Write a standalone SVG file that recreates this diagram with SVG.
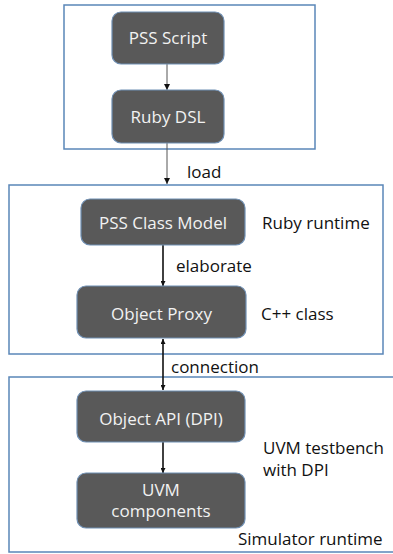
<svg xmlns="http://www.w3.org/2000/svg" width="393" height="554" viewBox="0 0 393 554">
<style>
.cont{fill:none;stroke:#5a86b8;stroke-width:1.5}
.node{fill:#595959;stroke:#6f8fb3;stroke-width:1.2}
.nt{font-family:"Open Sans","Noto Sans",sans-serif;font-size:17px;fill:#f2f2f2;text-anchor:middle}
.lbl{font-family:"Open Sans","Noto Sans",sans-serif;font-size:17px;fill:#111}
.ln{stroke:#111;stroke-width:1.6;fill:none}
.ln1{stroke:#555;stroke-width:1;fill:none}
</style>
<defs>
<marker id="ah" viewBox="0 0 10 10" refX="10" refY="5" markerWidth="5" markerHeight="5" orient="auto-start-reverse" markerUnits="userSpaceOnUse">
<path d="M0,0 L10,5 L0,10 z" fill="#111"/>
</marker>
<marker id="ahs" viewBox="0 0 10 10" refX="10" refY="5" markerWidth="6" markerHeight="6" orient="auto" markerUnits="userSpaceOnUse">
<path d="M0,0 L10,5 L0,10 z" fill="#111"/>
</marker>
</defs>
<rect width="393" height="554" fill="#fff"/>
<g id="containers">
<rect id="box-top" class="cont" x="64" y="5" width="251" height="144"/>
<rect id="box-ruby" class="cont" x="9" y="185" width="374" height="169"/>
<rect id="box-sim" class="cont" x="9" y="377" width="400" height="175"/>
</g>
<g id="connectors">
<line class="ln1" x1="167" y1="64" x2="167" y2="90" marker-end="url(#ahs)"/>
<line class="ln1" x1="167" y1="143" x2="167" y2="184" marker-end="url(#ahs)"/>
<line class="ln" x1="163" y1="245" x2="163" y2="286" marker-end="url(#ah)"/>
<line class="ln" x1="163" y1="339" x2="163" y2="390" marker-start="url(#ah)" marker-end="url(#ah)"/>
<line class="ln" x1="163" y1="442" x2="163" y2="473" marker-end="url(#ah)"/>
</g>
<g id="pss-script"><rect class="node" x="112" y="12" width="112" height="52" rx="9"/><text class="nt" x="168" y="44">PSS Script</text></g>
<g id="ruby-dsl"><rect class="node" x="112" y="90" width="112" height="53" rx="9"/><text class="nt" x="168" y="123">Ruby DSL</text></g>
<g id="pss-class-model"><rect class="node" x="81" y="199" width="164" height="46" rx="9"/><text class="nt" x="163" y="229">PSS Class Model</text></g>
<g id="object-proxy"><rect class="node" x="77" y="286" width="169" height="52" rx="9"/><text class="nt" x="161.5" y="320">Object Proxy</text></g>
<g id="object-api"><rect class="node" x="77" y="391" width="168" height="51" rx="9"/><text class="nt" x="161" y="425">Object API (DPI)</text></g>
<g id="uvm-components"><rect class="node" x="77" y="473" width="168" height="55" rx="9"/><text class="nt" x="161" y="496">UVM</text><text class="nt" x="161" y="517">components</text></g>
<g id="labels">
<text class="lbl" x="187" y="178">load</text>
<text class="lbl" x="262" y="229">Ruby runtime</text>
<text class="lbl" x="176" y="272">elaborate</text>
<text class="lbl" x="261" y="320">C++ class</text>
<text class="lbl" x="171" y="373">connection</text>
<text class="lbl" x="263" y="454">UVM testbench</text>
<text class="lbl" x="263" y="476">with DPI</text>
<text class="lbl" x="238" y="545">Simulator runtime</text>
</g>
</svg>
